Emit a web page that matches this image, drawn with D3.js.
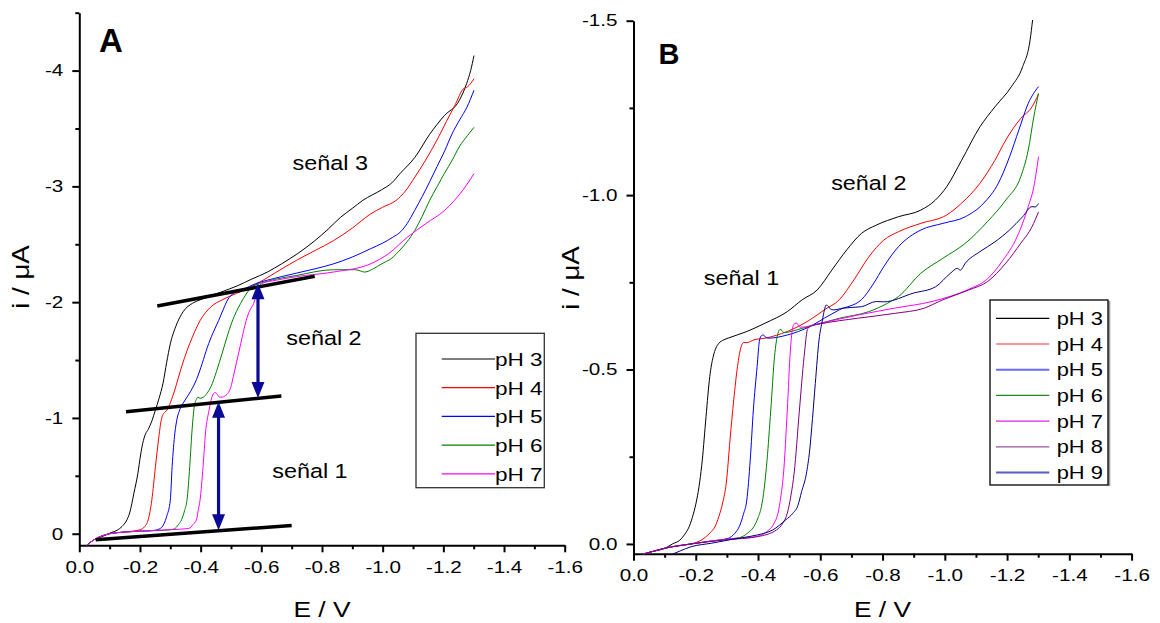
<!DOCTYPE html>
<html><head><meta charset="utf-8">
<script src="https://cdn.jsdelivr.net/npm/d3@7"></script>
<style>body{margin:0;background:#fff}svg{display:block}</style>
</head><body>
<svg id="c" width="1160" height="623"></svg>
<script>
// ---------------- DATA ----------------
const seriesA = ["pH 3","pH 4","pH 5","pH 6","pH 7"];
const seriesB = ["pH 3","pH 4","pH 5","pH 6","pH 7","pH 8","pH 9"];
const xTicks = [0,-0.2,-0.4,-0.6,-0.8,-1.0,-1.2,-1.4,-1.6];
const xTickLabels = ["0.0","-0.2","-0.4","-0.6","-0.8","-1.0","-1.2","-1.4","-1.6"];
const xMinor = [-0.1,-0.3,-0.5,-0.7,-0.9,-1.1,-1.3,-1.5];
const yTicksA = [0,-1,-2,-3,-4];
const yTickLabelsA = ["0","-1","-2","-3","-4"];
const yMinorA = [-0.5,-1.5,-2.5,-3.5,-4.5];
const yTicksB = [0,-0.5,-1.0,-1.5];
const yTickLabelsB = ["0.0","-0.5","-1.0","-1.5"];
const yMinorB = [-0.25,-0.75,-1.25];

// Panel A: [E (V), i (µA)]
const A_pH3 = [[-0.024,0.10],[-0.05,0.05],[-0.08,0.02],[-0.105,-0.01],[-0.125,-0.03],[-0.141,-0.063],[-0.155,-0.11],[-0.166,-0.18],[-0.18,-0.35],[-0.193,-0.52],[-0.202,-0.68],[-0.209,-0.78],[-0.218,-0.86],[-0.227,-0.90],[-0.24,-0.98],[-0.251,-1.07],[-0.263,-1.17],[-0.276,-1.30],[-0.288,-1.48],[-0.30,-1.64],[-0.318,-1.79],[-0.343,-1.92],[-0.373,-1.99],[-0.398,-2.02],[-0.43,-2.05],[-0.47,-2.09],[-0.52,-2.14],[-0.569,-2.20],[-0.62,-2.26],[-0.666,-2.33],[-0.72,-2.42],[-0.776,-2.53],[-0.82,-2.63],[-0.862,-2.735],[-0.90,-2.81],[-0.935,-2.88],[-0.996,-2.97],[-1.03,-3.03],[-1.057,-3.11],[-1.106,-3.25],[-1.155,-3.45],[-1.203,-3.61],[-1.252,-3.74],[-1.277,-3.89],[-1.29,-4.0],[-1.301,-4.13]];
const A_pH4 = [[-0.024,0.10],[-0.05,0.05],[-0.10,0.0],[-0.15,-0.015],[-0.20,-0.034],[-0.215,-0.06],[-0.227,-0.12],[-0.239,-0.29],[-0.251,-0.58],[-0.261,-0.81],[-0.27,-0.98],[-0.276,-1.03],[-0.282,-1.05],[-0.29,-1.07],[-0.30,-1.13],[-0.318,-1.27],[-0.337,-1.44],[-0.355,-1.58],[-0.373,-1.70],[-0.398,-1.84],[-0.434,-1.96],[-0.471,-2.02],[-0.495,-2.05],[-0.54,-2.10],[-0.593,-2.17],[-0.65,-2.26],[-0.715,-2.36],[-0.78,-2.45],[-0.837,-2.53],[-0.90,-2.64],[-0.959,-2.76],[-1.0,-2.82],[-1.045,-2.88],[-1.075,-2.96],[-1.106,-3.08],[-1.14,-3.22],[-1.179,-3.40],[-1.21,-3.56],[-1.24,-3.71],[-1.265,-3.84],[-1.28,-3.86],[-1.301,-3.93]];
const A_pH5 = [[-0.024,0.10],[-0.05,0.05],[-0.10,0.0],[-0.15,-0.015],[-0.20,-0.022],[-0.24,-0.027],[-0.263,-0.04],[-0.28,-0.09],[-0.288,-0.15],[-0.30,-0.29],[-0.306,-0.58],[-0.315,-0.87],[-0.322,-0.99],[-0.331,-1.07],[-0.349,-1.155],[-0.367,-1.23],[-0.386,-1.33],[-0.405,-1.47],[-0.422,-1.61],[-0.44,-1.73],[-0.459,-1.84],[-0.475,-1.94],[-0.489,-2.02],[-0.51,-2.08],[-0.54,-2.11],[-0.581,-2.16],[-0.62,-2.19],[-0.715,-2.25],[-0.78,-2.29],[-0.837,-2.33],[-0.90,-2.39],[-0.959,-2.46],[-1.0,-2.51],[-1.033,-2.56],[-1.06,-2.61],[-1.081,-2.68],[-1.105,-2.79],[-1.13,-2.91],[-1.155,-3.04],[-1.179,-3.17],[-1.205,-3.31],[-1.228,-3.45],[-1.255,-3.58],[-1.277,-3.68],[-1.301,-3.83]];
const A_pH6 = [[-0.024,0.10],[-0.05,0.05],[-0.10,0.0],[-0.2,-0.022],[-0.28,-0.03],[-0.312,-0.04],[-0.327,-0.08],[-0.337,-0.12],[-0.347,-0.2],[-0.355,-0.29],[-0.364,-0.58],[-0.371,-0.87],[-0.379,-1.10],[-0.386,-1.16],[-0.391,-1.18],[-0.398,-1.17],[-0.41,-1.18],[-0.42,-1.21],[-0.434,-1.27],[-0.452,-1.40],[-0.471,-1.56],[-0.487,-1.70],[-0.502,-1.82],[-0.518,-1.92],[-0.532,-1.99],[-0.55,-2.07],[-0.569,-2.13],[-0.62,-2.18],[-0.715,-2.23],[-0.837,-2.28],[-0.911,-2.28],[-0.941,-2.26],[-0.97,-2.29],[-0.996,-2.33],[-1.03,-2.38],[-1.057,-2.45],[-1.08,-2.52],[-1.106,-2.62],[-1.13,-2.74],[-1.155,-2.88],[-1.18,-3.0],[-1.203,-3.11],[-1.23,-3.23],[-1.252,-3.34],[-1.28,-3.44],[-1.301,-3.51]];
const A_pH7 = [[-0.024,0.10],[-0.05,0.05],[-0.10,0.0],[-0.2,-0.022],[-0.3,-0.035],[-0.361,-0.045],[-0.375,-0.08],[-0.386,-0.12],[-0.392,-0.2],[-0.398,-0.29],[-0.408,-0.58],[-0.416,-0.87],[-0.428,-1.07],[-0.436,-1.17],[-0.44,-1.20],[-0.447,-1.22],[-0.453,-1.21],[-0.462,-1.18],[-0.471,-1.18],[-0.48,-1.19],[-0.489,-1.21],[-0.50,-1.27],[-0.508,-1.36],[-0.52,-1.50],[-0.532,-1.64],[-0.55,-1.84],[-0.562,-1.93],[-0.575,-1.99],[-0.585,-2.08],[-0.60,-2.16],[-0.65,-2.19],[-0.715,-2.22],[-0.837,-2.26],[-0.959,-2.33],[-1.02,-2.42],[-1.081,-2.56],[-1.143,-2.68],[-1.203,-2.79],[-1.265,-2.97],[-1.301,-3.11]];

// Panel B
const B_pH3 = [[-0.031,0.029],[-0.06,0.022],[-0.102,0.012],[-0.125,0.0],[-0.149,-0.011],[-0.165,-0.028],[-0.179,-0.05],[-0.192,-0.085],[-0.203,-0.126],[-0.213,-0.18],[-0.221,-0.241],[-0.233,-0.365],[-0.245,-0.48],[-0.256,-0.537],[-0.265,-0.562],[-0.274,-0.575],[-0.29,-0.585],[-0.304,-0.59],[-0.364,-0.609],[-0.423,-0.633],[-0.494,-0.666],[-0.542,-0.70],[-0.59,-0.728],[-0.637,-0.785],[-0.685,-0.843],[-0.732,-0.89],[-0.78,-0.914],[-0.851,-0.938],[-0.923,-0.957],[-0.97,-0.986],[-1.006,-1.024],[-1.054,-1.10],[-1.113,-1.196],[-1.161,-1.253],[-1.214,-1.311],[-1.25,-1.368],[-1.274,-1.445],[-1.282,-1.502]];
const B_pH4 = [[-0.031,0.029],[-0.06,0.022],[-0.102,0.012],[-0.15,0.005],[-0.185,0.0],[-0.22,-0.012],[-0.245,-0.031],[-0.262,-0.05],[-0.274,-0.078],[-0.287,-0.12],[-0.298,-0.174],[-0.31,-0.298],[-0.322,-0.413],[-0.334,-0.508],[-0.346,-0.566],[-0.355,-0.578],[-0.364,-0.577],[-0.387,-0.585],[-0.423,-0.59],[-0.494,-0.609],[-0.566,-0.642],[-0.613,-0.671],[-0.661,-0.70],[-0.708,-0.757],[-0.756,-0.823],[-0.804,-0.871],[-0.851,-0.895],[-0.923,-0.919],[-1.006,-0.943],[-1.054,-0.977],[-1.113,-1.034],[-1.161,-1.10],[-1.196,-1.158],[-1.244,-1.22],[-1.28,-1.253],[-1.301,-1.29]];
const B_pH5 = [[-0.031,0.029],[-0.06,0.022],[-0.102,0.012],[-0.185,0.0],[-0.25,-0.008],[-0.304,-0.016],[-0.325,-0.03],[-0.34,-0.05],[-0.353,-0.085],[-0.364,-0.126],[-0.375,-0.241],[-0.385,-0.384],[-0.397,-0.508],[-0.405,-0.585],[-0.411,-0.597],[-0.417,-0.599],[-0.425,-0.592],[-0.435,-0.59],[-0.494,-0.599],[-0.566,-0.623],[-0.613,-0.647],[-0.661,-0.671],[-0.732,-0.70],[-0.77,-0.745],[-0.804,-0.795],[-0.851,-0.852],[-0.923,-0.90],[-0.994,-0.919],[-1.066,-0.938],[-1.125,-0.977],[-1.172,-1.034],[-1.208,-1.11],[-1.238,-1.187],[-1.268,-1.263],[-1.301,-1.311]];
const B_pH6 = [[-0.031,0.029],[-0.06,0.022],[-0.102,0.012],[-0.185,0.0],[-0.3,-0.014],[-0.34,-0.018],[-0.365,-0.03],[-0.387,-0.05],[-0.40,-0.075],[-0.411,-0.107],[-0.42,-0.16],[-0.429,-0.241],[-0.441,-0.384],[-0.453,-0.537],[-0.464,-0.604],[-0.471,-0.615],[-0.477,-0.612],[-0.482,-0.606],[-0.542,-0.618],[-0.661,-0.647],[-0.756,-0.666],[-0.816,-0.69],[-0.851,-0.709],[-0.923,-0.776],[-0.994,-0.819],[-1.066,-0.862],[-1.137,-0.924],[-1.196,-0.986],[-1.244,-1.053],[-1.268,-1.129],[-1.286,-1.225],[-1.301,-1.292]];
const B_pH7 = [[-0.031,0.029],[-0.06,0.022],[-0.102,0.012],[-0.185,0.0],[-0.3,-0.014],[-0.387,-0.02],[-0.435,-0.04],[-0.452,-0.06],[-0.464,-0.088],[-0.474,-0.14],[-0.482,-0.203],[-0.494,-0.384],[-0.504,-0.556],[-0.512,-0.623],[-0.518,-0.632],[-0.524,-0.633],[-0.53,-0.626],[-0.536,-0.621],[-0.601,-0.633],[-0.72,-0.656],[-0.839,-0.676],[-0.959,-0.695],[-1.018,-0.71],[-1.077,-0.73],[-1.137,-0.76],[-1.184,-0.81],[-1.232,-0.88],[-1.268,-0.967],[-1.286,-1.024],[-1.301,-1.11]];
const B_pH8 = [[-0.031,0.029],[-0.06,0.022],[-0.102,0.012],[-0.185,0.0],[-0.3,-0.012],[-0.399,-0.021],[-0.459,-0.04],[-0.48,-0.06],[-0.494,-0.088],[-0.506,-0.14],[-0.516,-0.203],[-0.533,-0.384],[-0.548,-0.537],[-0.56,-0.618],[-0.575,-0.626],[-0.601,-0.631],[-0.72,-0.647],[-0.839,-0.661],[-0.934,-0.676],[-0.994,-0.70],[-1.077,-0.728],[-1.137,-0.752],[-1.196,-0.805],[-1.244,-0.862],[-1.28,-0.909],[-1.301,-0.952]];
const B_pH9 = [[-0.126,0.029],[-0.15,0.02],[-0.185,0.008],[-0.25,-0.002],[-0.304,-0.011],[-0.35,-0.018],[-0.399,-0.026],[-0.447,-0.04],[-0.489,-0.069],[-0.512,-0.088],[-0.528,-0.11],[-0.54,-0.15],[-0.555,-0.2],[-0.566,-0.269],[-0.575,-0.36],[-0.584,-0.46],[-0.596,-0.585],[-0.607,-0.642],[-0.613,-0.67],[-0.619,-0.685],[-0.627,-0.68],[-0.635,-0.672],[-0.643,-0.671],[-0.673,-0.676],[-0.732,-0.68],[-0.78,-0.695],[-0.804,-0.694],[-0.899,-0.719],[-0.97,-0.737],[-1.018,-0.776],[-1.04,-0.79],[-1.05,-0.785],[-1.066,-0.805],[-1.113,-0.838],[-1.161,-0.866],[-1.208,-0.90],[-1.25,-0.938],[-1.28,-0.967],[-1.29,-0.966],[-1.301,-0.976]];

// Annotations in panel A (data coordinates)
const tangentLinesA = [[[-0.054,0.052],[-0.70,-0.072]],[[-0.154,-1.054],[-0.666,-1.19]],[[-0.257,-1.966],[-0.776,-2.224]]];
const arrowsA = [[-0.589,-1.172,-2.164],[-0.459,-0.03,-1.14]];
const labelsA = [["señal 3",-0.703,-3.14],["señal 2",-0.682,-1.628],["señal 1",-0.636,-0.482]];
const labelsB = [["señal 2",-0.635,-1.014],["señal 1",-0.226,-0.742]];

// ---------------- STYLE ----------------
const colorsA = ["#000000","#ff0000","#0000ff","#008000","#ff00ff"];
const colorsB = ["#000000","#ff0000","#0000ff","#008000","#ff00ff","#800080","#000080"];
const legColorsB = ["#000000","#ff3030","#6a6aff","#208a20","#e020e0","#a050a0","#5a5ac8"];
const FONT = "'Liberation Sans', Arial, sans-serif";

const svg = d3.select("#c");

function stext(g, x, y, str, size, sx, anchor, extra) {
  const t = g.append("text")
    .attr("transform", `translate(${x},${y}) scale(${sx},1)`)
    .attr("text-anchor", anchor || "start")
    .attr("font-family", FONT).attr("font-size", size).attr("fill", "#000")
    .text(str);
  if (extra) extra(t);
  return t;
}

function panel(cfg) {
  const g = svg.append("g");
  const x = d3.scaleLinear().domain([0,-1.6]).range(cfg.xr);
  const y = d3.scaleLinear().domain(cfg.yd).range(cfg.yr);
  const sx = 1.25, fs = 16.5;

  // minor ticks
  g.append("g").attr("transform", `translate(0,${cfg.yr[0]})`)
    .call(d3.axisBottom(x).tickValues(xMinor).tickSize(4).tickFormat(""))
    .call(s => s.select(".domain").remove());
  g.append("g").attr("transform", `translate(${cfg.xr[0]},0)`)
    .call(d3.axisLeft(y).tickValues(cfg.yMinor).tickSize(4).tickFormat(""))
    .call(s => s.select(".domain").remove());
  // major
  const xa = g.append("g").attr("transform", `translate(0,${cfg.yr[0]})`)
    .call(d3.axisBottom(x).tickValues(xTicks).tickSize(7).tickSizeOuter(0).tickPadding(9)
      .tickFormat((d,i) => xTickLabels[i]));
  const ya = g.append("g").attr("transform", `translate(${cfg.xr[0]},0)`)
    .call(d3.axisLeft(y).tickValues(cfg.yTicks).tickSize(7).tickSizeOuter(0)
      .tickFormat((d,i) => cfg.yLabels[i]));
  [xa, ya].forEach(a => {
    a.selectAll("path,line").attr("stroke", "#000").attr("stroke-width", 2);
    a.selectAll("text").attr("font-family", FONT).attr("font-size", fs).attr("fill", "#000");
  });
  g.selectAll(".tick line").attr("stroke", "#000").attr("stroke-width", 2);
  xa.selectAll("text").attr("transform", `scale(${sx},1)`);
  ya.selectAll("text").attr("x", -16 / sx).attr("transform", `scale(${sx},1)`);
  // y-axis extends to top (hook tick at top for panel A)
  return {g, x, y};
}

const line = (x, y) => d3.line().x(d => x(d[0])).y(d => y(d[1])).curve(d3.curveMonotoneX);

// ---------------- PANEL A ----------------
const PA = panel({xr:[79.3,564.7], yd:[0.1,-4.5], yr:[545.3,12.7],
  yTicks:yTicksA, yLabels:yTickLabelsA, yMinor:yMinorA});
const dataA = [A_pH3, A_pH4, A_pH5, A_pH6, A_pH7];
PA.g.append("g").selectAll("path").data(dataA).join("path")
  .attr("d", d => line(PA.x, PA.y)(d))
  .attr("fill", "none").attr("stroke", (d,i) => colorsA[i]).attr("stroke-width", 1);

PA.g.append("g").selectAll("line").data(tangentLinesA).join("line")
  .attr("x1", d => PA.x(d[0][0])).attr("y1", d => PA.y(d[0][1]))
  .attr("x2", d => PA.x(d[1][0])).attr("y2", d => PA.y(d[1][1]))
  .attr("stroke", "#000").attr("stroke-width", 3.5).attr("stroke-linecap", "butt");

const arrowColor = "#0a0a96";
arrowsA.forEach(a => {
  const xx = PA.x(a[0]), y1 = PA.y(a[1]), y2 = PA.y(a[2]);
  const hl = 16, hw = 6.5;
  const ag = PA.g.append("g");
  ag.append("line").attr("x1", xx).attr("x2", xx).attr("y1", y1 - hl + 2).attr("y2", y2 + hl - 2)
    .attr("stroke", arrowColor).attr("stroke-width", 3.2);
  ag.append("path").attr("d", `M${xx},${y2}L${xx-hw},${y2+hl}L${xx+hw},${y2+hl}Z`).attr("fill", arrowColor);
  ag.append("path").attr("d", `M${xx},${y1}L${xx-hw},${y1-hl}L${xx+hw},${y1-hl}Z`).attr("fill", arrowColor);
});

labelsA.forEach(l => stext(PA.g, PA.x(l[1]), PA.y(l[2]), l[0], 19.5, 1.2));

stext(PA.g, 98.9, 52.3, "A", 33, 1, "start", t => t.attr("font-weight", "bold"));

// legend A
const LA = PA.g.append("g");
LA.append("rect").attr("x", 416).attr("y", 333.3).attr("width", 128.3).attr("height", 154.4)
  .attr("fill", "#fff").attr("stroke", "#333").attr("stroke-width", 1.3);
seriesA.forEach((s, i) => {
  const cy = 359 + i * 28.7;
  LA.append("line").attr("x1", 441.7).attr("x2", 495).attr("y1", cy).attr("y2", cy)
    .attr("stroke", colorsA[i]).attr("stroke-width", 1.2);
  stext(LA, 495, cy + 6.8, s, 18.5, 1.22);
});

// axis titles A
stext(PA.g, 322, 617, "E / V", 22, 1.2, "middle");
PA.g.append("text").attr("transform", "translate(29,277) rotate(-90) scale(1.18,1)")
  .attr("text-anchor", "middle").attr("font-family", FONT).attr("font-size", 23.5).text("i / μA");

// ---------------- PANEL B ----------------
const PB = panel({xr:[633.5,1131.6], yd:[0.028,-1.5], yr:[553.7,20.7],
  yTicks:yTicksB, yLabels:yTickLabelsB, yMinor:yMinorB});
const dataB = [B_pH3, B_pH4, B_pH5, B_pH6, B_pH7, B_pH8, B_pH9];
PB.g.append("g").selectAll("path").data(dataB).join("path")
  .attr("d", d => line(PB.x, PB.y)(d))
  .attr("fill", "none").attr("stroke", (d,i) => colorsB[i]).attr("stroke-width", 1);

labelsB.forEach(l => stext(PB.g, PB.x(l[1]), PB.y(l[2]), l[0], 19.5, 1.2));
stext(PB.g, 658.5, 64, "B", 29, 1, "start", t => t.attr("font-weight", "bold"));

const LB = PB.g.append("g");
LB.append("line").attr("x1", 1109.3).attr("x2", 1109.3).attr("y1", 301).attr("y2", 486)
  .attr("stroke", "#999").attr("stroke-width", 2);
LB.append("rect").attr("x", 990).attr("y", 300).attr("width", 118).attr("height", 185)
  .attr("fill", "#fff").attr("stroke", "#000").attr("stroke-width", 1.3);
seriesB.forEach((s, i) => {
  const cy = 318.3 + i * 25.7;
  LB.append("line").attr("x1", 996).attr("x2", 1049.3).attr("y1", cy).attr("y2", cy)
    .attr("stroke", legColorsB[i]).attr("stroke-width", (i === 2 || i === 6) ? 2 : 1.2);
  stext(LB, 1056.7, cy + 6.5, s, 17.5, 1.25);
});

stext(PB.g, 882.5, 617, "E / V", 22, 1.2, "middle");
PB.g.append("text").attr("transform", "translate(579,278) rotate(-90) scale(1.18,1)")
  .attr("text-anchor", "middle").attr("font-family", FONT).attr("font-size", 23.5).text("i / μA");
</script>
</body></html>
